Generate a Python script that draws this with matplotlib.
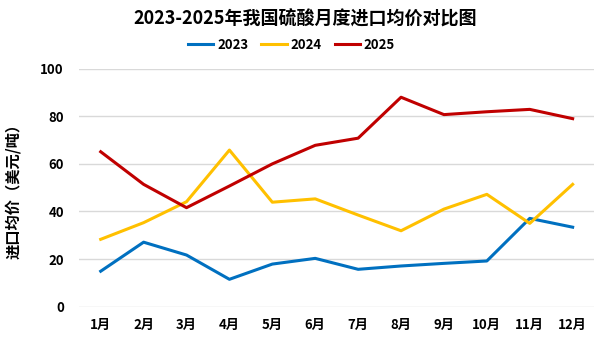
import matplotlib.pyplot as plt
import numpy as np

plt.rcParams['font.family'] = ['Noto Sans CJK SC', 'DejaVu Sans']

# 月度进口均价（美元/吨）
months = ["1月", "2月", "3月", "4月", "5月", "6月",
          "7月", "8月", "9月", "10月", "11月", "12月"]
price_2023 = [14.9, 27.1, 21.7, 11.5, 17.9, 20.3, 15.7, 17.1, 18.2, 19.2, 37.1, 33.4]
price_2024 = [28.3, 35.3, 44.1, 65.8, 43.9, 45.3, 38.5, 31.9, 41.0, 47.2, 35.0, 51.4]
price_2025 = [65.1, 51.4, 41.6, 50.7, 60.0, 67.8, 70.8, 88.0, 80.7, 81.9, 82.9, 79.0]

x = np.arange(len(months))

fig = plt.figure(figsize=(6.05, 3.4), dpi=100)
ax = fig.add_axes([0.131, 0.098, 0.851, 0.70])

ax.plot(x, price_2023, color='#0070C0', lw=2.2, label='2023')
ax.plot(x, price_2024, color='#FFC000', lw=2.2, label='2024')
ax.plot(x, price_2025, color='#C00000', lw=2.2, label='2025')

ax.set_xlim(-0.5, len(months) - 0.5)
ax.set_ylim(0, 100)
ax.set_yticks(np.arange(0, 101, 20))
ax.set_xticks(x)
ax.set_xticklabels(months)
ax.yaxis.grid(True, color='#d9d9d9', lw=1)
ax.set_axisbelow(True)
for s in ax.spines.values():
    s.set_visible(False)
ax.tick_params(length=0, labelsize=9.5)
ax.tick_params(axis='y', pad=11)
ax.tick_params(axis='x', pad=8)
for lbl in ax.get_xticklabels() + ax.get_yticklabels():
    lbl.set_fontweight('bold')

ax.set_ylabel('进口均价（美元/吨）', fontsize=11, fontweight='bold', labelpad=14)

fig.text(0.505, 0.945, '2023-2025年我国硫酸月度进口均价对比图',
         ha='center', va='center', fontsize=13, fontweight='bold')
fig.legend(loc='center', bbox_to_anchor=(0.482, 0.868), ncol=3, frameon=False,
           prop={'weight': 'bold', 'size': 9.5}, handlelength=1.9,
           columnspacing=1.0, handletextpad=0.3)

fig.savefig('out.png', dpi=100)
